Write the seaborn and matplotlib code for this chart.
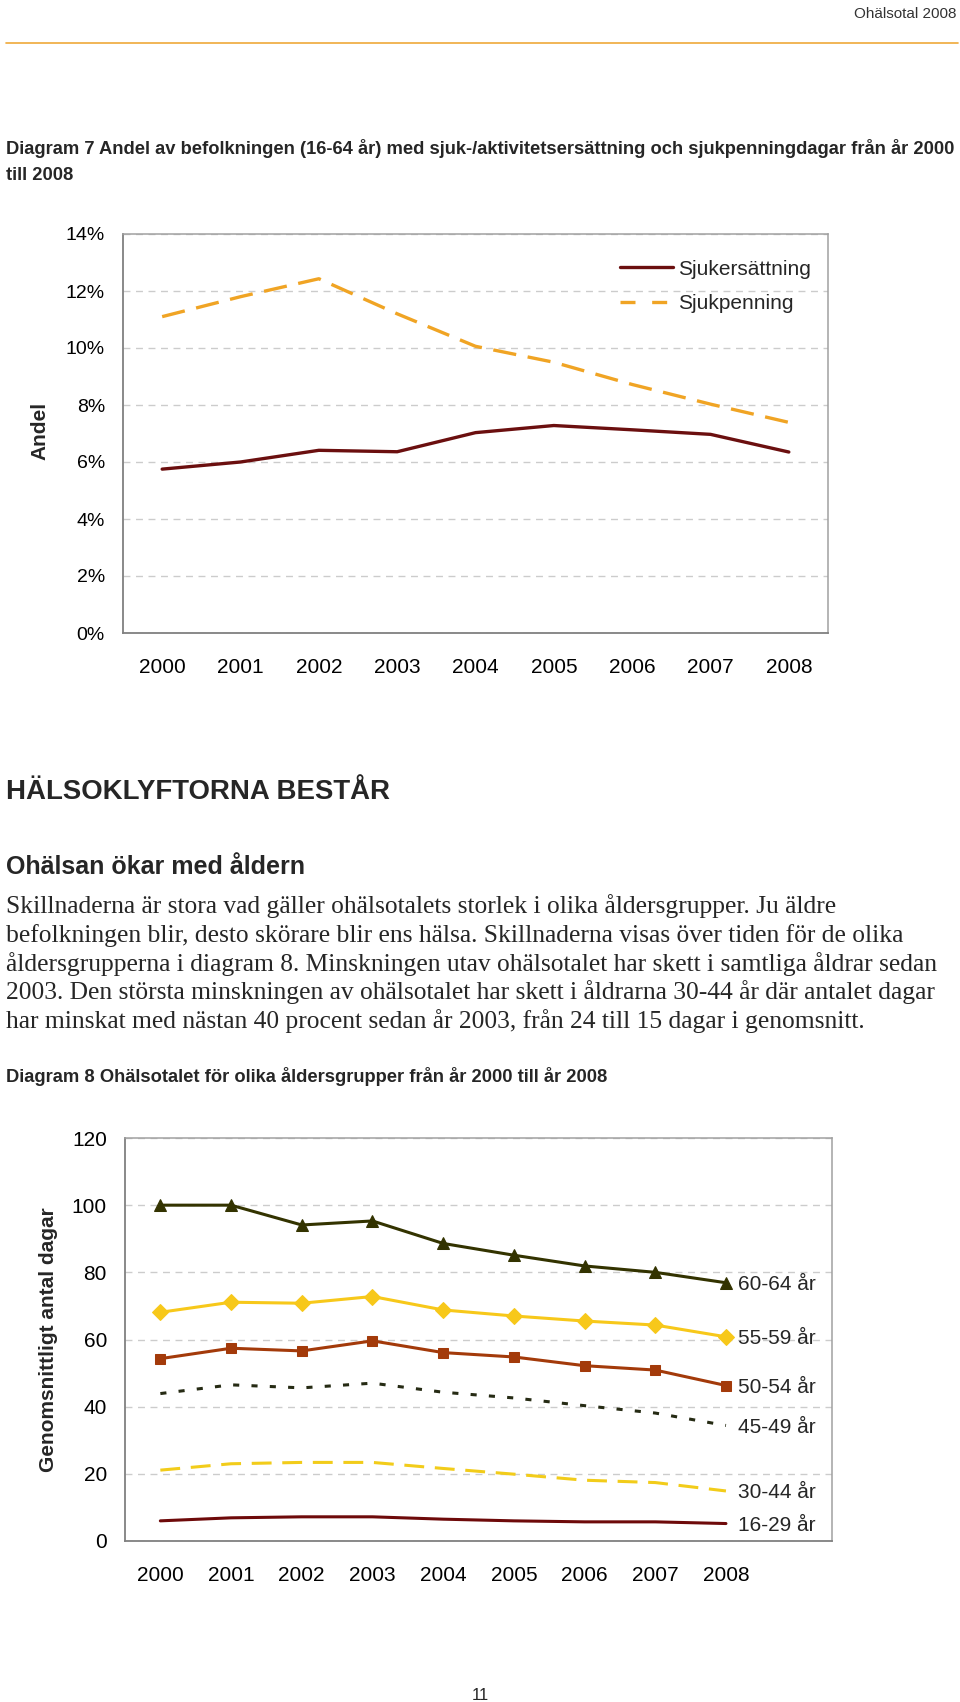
import matplotlib
matplotlib.use("Agg")
import matplotlib.pyplot as plt
from matplotlib.lines import Line2D
from matplotlib.ticker import FixedLocator, FuncFormatter
import pandas as pd
import seaborn as sns

# Data
ar = [2000, 2001, 2002, 2003, 2004, 2005, 2006, 2007, 2008]

# Diagram 7: andel i procent
sjukersattning = [5.75, 6.0, 6.41, 6.36, 7.03, 7.28, 7.13, 6.97, 6.35]
sjukpenning = [11.1, 11.8, 12.43, 11.2, 10.06, 9.5, 8.72, 8.03, 7.39]

# Diagram 8: genomsnittligt antal dagar
grupper = ["60-64 år", "55-59 år", "50-54 år", "45-49 år", "30-44 år", "16-29 år"]
dagar_60_64 = [100.0, 100.0, 94.1, 95.3, 88.6, 85.1, 81.9, 80.0, 76.9]
dagar_55_59 = [68.1, 71.1, 70.8, 72.8, 68.8, 67.0, 65.5, 64.3, 60.8]
dagar_50_54 = [54.3, 57.4, 56.6, 59.6, 56.1, 54.8, 52.2, 50.9, 46.3]
dagar_45_49 = [43.9, 46.5, 45.6, 47.0, 44.3, 42.6, 40.3, 38.1, 34.4]
dagar_30_44 = [21.1, 23.0, 23.4, 23.4, 21.6, 19.9, 18.1, 17.4, 14.9]
dagar_16_29 = [6.0, 6.9, 7.2, 7.2, 6.5, 6.0, 5.7, 5.7, 5.2]

brodtext = [
    "Skillnaderna är stora vad gäller ohälsotalets storlek i olika åldersgrupper. Ju äldre",
    "befolkningen blir, desto skörare blir ens hälsa. Skillnaderna visas över tiden för de olika",
    "åldersgrupperna i diagram 8. Minskningen utav ohälsotalet har skett i samtliga åldrar sedan",
    "2003. Den största minskningen av ohälsotalet har skett i åldrarna 30-44 år där antalet dagar",
    "har minskat med nästan 40 procent sedan år 2003, från 24 till 15 dagar i genomsnitt.",
]

sns.set_theme(style="white")
plt.rcParams['font.family'] = ['Liberation Sans', 'DejaVu Sans']

W, H = 960, 1702
fig = plt.figure(figsize=(9.6, 17.02), dpi=100)


def box(left, top, right, bottom):
    return [left / W, 1 - bottom / H, (right - left) / W, (bottom - top) / H]


def text_px(x, y, s, **kw):
    fig.text(x / W, 1 - y / H, s, **kw)


def stil(ax, xmax, ysize):
    # ramar, rutnät och skalstreck i Excel-stil
    for side in ["left", "bottom"]:
        ax.spines[side].set_color("#808080")
        ax.spines[side].set_linewidth(1.3)
    for side in ["top", "right"]:
        ax.spines[side].set_color("#a0a0a0")
        ax.spines[side].set_linewidth(1.1)
    ax.set_xlim(1999.5, xmax)
    ax.xaxis.set_major_locator(FixedLocator(ar))
    ax.xaxis.set_minor_locator(FixedLocator([a + 0.5 for a in range(1999, int(xmax) + 1)]))
    ax.tick_params(axis="x", which="major", length=0, pad=18, labelsize=15, colors="#000000")
    ax.tick_params(axis="x", which="minor", length=5, width=1, color="#909090", direction="out")
    ax.tick_params(axis="y", which="major", length=5, width=1, color="#909090",
                   direction="out", pad=8, labelsize=ysize, labelcolor="#000000")
    ax.yaxis.grid(True, color="#cccccc", linestyle=(0, (5, 4)), linewidth=1)
    ax.set_axisbelow(True)
    ax.set_xlabel("")
    ax.set_ylabel("")


# Sidhuvud
text_px(957, 18, "Ohälsotal 2008", ha="right", va="baseline", fontsize=11, color="#333333")
fig.add_artist(Line2D([6 / W, 958 / W], [1 - 43 / H, 1 - 43 / H], color="#efa93a", linewidth=1.2))

text_px(6, 154, "Diagram 7 Andel av befolkningen (16-64 år) med sjuk-/aktivitetsersättning och sjukpenningdagar från år 2000",
        ha="left", va="baseline", fontsize=13.2, fontweight="bold")
text_px(6, 180, "till 2008", ha="left", va="baseline", fontsize=13.2, fontweight="bold")

# Diagram 7
ax1 = fig.add_axes(box(123, 234, 828, 633))
df1 = pd.DataFrame({
    "år": ar * 2,
    "andel": sjukersattning + sjukpenning,
    "serie": ["Sjukersättning"] * len(ar) + ["Sjukpenning"] * len(ar),
})
farg1 = {"Sjukersättning": "#6b0f0f", "Sjukpenning": "#f0a424"}
sns.lineplot(data=df1, x="år", y="andel", hue="serie", style="serie",
             palette=farg1, dashes={"Sjukersättning": "", "Sjukpenning": (7, 3.5)},
             linewidth=2.4, legend=False, ax=ax1)
stil(ax1, 2008.5, 14)
ax1.set_ylim(0, 14)
ax1.yaxis.set_major_locator(FixedLocator(range(0, 15, 2)))
ax1.yaxis.set_major_formatter(FuncFormatter(lambda v, p: f"{v:.0f}%"))
handles = [Line2D([], [], color=farg1["Sjukersättning"], linewidth=2.4),
           Line2D([], [], color=farg1["Sjukpenning"], linewidth=2.4, dashes=(4.5, 5))]
ax1.legend(handles, list(farg1), loc="upper right", bbox_to_anchor=(1.003, 0.983),
           frameon=False, fontsize=15, handlelength=2.55, handletextpad=0.25, labelspacing=0.76)
text_px(40, 431, "Andel", rotation=90, ha="center", va="center", fontsize=15, fontweight="bold")

# Brödtext
text_px(6, 799, "HÄLSOKLYFTORNA BESTÅR", ha="left", va="baseline", fontsize=19.9, fontweight="bold")
text_px(6, 874, "Ohälsan ökar med åldern", ha="left", va="baseline", fontsize=18, fontweight="bold")
for i, rad in enumerate(brodtext):
    text_px(6, 913 + i * 28.8, rad, ha="left", va="baseline", fontsize=18.4,
            family=["Liberation Serif", "DejaVu Serif"])
text_px(6, 1082, "Diagram 8 Ohälsotalet för olika åldersgrupper från år 2000 till år 2008",
        ha="left", va="baseline", fontsize=13.2, fontweight="bold")

# Diagram 8
ax2 = fig.add_axes(box(125, 1138, 832, 1541))
serier = [dagar_60_64, dagar_55_59, dagar_50_54, dagar_45_49, dagar_30_44, dagar_16_29]
farger = ["#333300", "#f7c81a", "#a33a0a", "#262b14", "#f2cc1a", "#6e0a0a"]
linjer = ["-", "-", "-", (0, (2, 4)), (0, (6.5, 3.5)), "-"]
markorer = ["^", "D", "s", None, None, None]
storlek = [9, 8, 6.5, 0, 0, 0]
for namn, y, c, ls, m, ms in zip(grupper, serier, farger, linjer, markorer, storlek):
    sns.lineplot(x=ar, y=y, color=c, linestyle=ls, marker=m, markersize=ms,
                 markeredgecolor=c, markerfacecolor=c, linewidth=2.2, ax=ax2)
    ax2.annotate(namn, xy=(ar[-1], y[-1]), xytext=(9, 0), textcoords="offset points",
                 ha="left", va="center_baseline", fontsize=15)
stil(ax2, 2009.5, 15)
ax2.set_ylim(0, 120)
ax2.yaxis.set_major_locator(FixedLocator(range(0, 121, 20)))
text_px(49, 1340, "Genomsnittligt antal dagar", rotation=90, ha="center", va="center",
        fontsize=15, fontweight="bold")

text_px(480, 1700, "11", ha="center", va="baseline", fontsize=12)

fig.savefig("out.png", dpi=100)
